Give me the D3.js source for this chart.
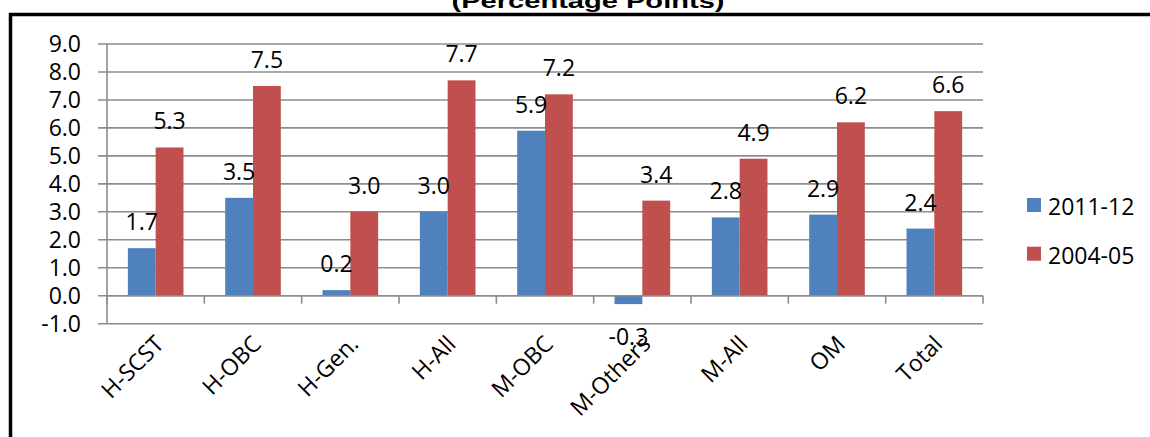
<!DOCTYPE html>
<html>
<head>
<meta charset="utf-8">
<script src="https://cdn.jsdelivr.net/npm/d3@7"></script>
<style>
  html, body { margin: 0; padding: 0; background: #fff; }
  svg { display: block; }
  text { font-family: "Open Sans", "Noto Sans", sans-serif; fill: #000; }
</style>
</head>
<body>
<svg id="chart" width="1150" height="437"></svg>
<script>
const categories = ["H-SCST", "H-OBC", "H-Gen.", "H-All", "M-OBC", "M-Others", "M-All", "OM", "Total"];
const seriesNames = ["2011-12", "2004-05"];
const values2011 = [1.7, 3.5, 0.2, 3.0, 5.9, -0.3, 2.8, 2.9, 2.4];
const values2004 = [5.3, 7.5, 3.0, 7.7, 7.2, 3.4, 4.9, 6.2, 6.6];
const yTicks = [-1, 0, 1, 2, 3, 4, 5, 6, 7, 8, 9];
const colors = ["#4F81BD", "#C0504D"];
const titleText = "(Percentage Points)";

const seriesValues = [values2011, values2004];
const svg = d3.select("#chart");
const fmt = d3.formatLocale({ decimal: ".", thousands: ",", grouping: [3], currency: ["", ""], minus: "-" }).format(".1f");

// outer frame
svg.append("rect")
  .attr("x", 10.5).attr("y", 14.5)
  .attr("width", 1300).attr("height", 600)
  .attr("fill", "none").attr("stroke", "#000").attr("stroke-width", 3.5);

// title (top clipped as in the original)
svg.append("text")
  .attr("x", 588).attr("y", 8)
  .attr("text-anchor", "middle")
  .style("font-family", "'Liberation Sans', Arial, sans-serif")
  .style("font-weight", "bold")
  .style("font-size", "20px")
  .attr("textLength", 273)
  .attr("lengthAdjust", "spacingAndGlyphs")
  .text(titleText);

const left = 107, right = 983;
const y = d3.scaleLinear().domain([-1, 9]).range([323.7, 44]);
const x = d3.scaleBand().domain(categories).range([left, right]).paddingInner(0).paddingOuter(0);
const xs = d3.scaleBand().domain(seriesNames).range([0, x.bandwidth()]).paddingInner(0).paddingOuter(0.75);

const gridColor = "#8c8c8c";
const fs = "23px";

// gridlines (extend left as tick marks)
svg.append("g").selectAll("line").data(yTicks).join("line")
  .attr("x1", left - 9).attr("x2", right)
  .attr("y1", d => y(d)).attr("y2", d => y(d))
  .attr("stroke", gridColor).attr("stroke-width", 1.6);

// y axis line
svg.append("line")
  .attr("x1", left).attr("x2", left)
  .attr("y1", y(9)).attr("y2", y(-1))
  .attr("stroke", gridColor).attr("stroke-width", 1.6);

// y tick labels
svg.append("g").selectAll("text").data(yTicks).join("text")
  .attr("x", 81).attr("y", d => y(d))
  .attr("dy", "0.36em")
  .attr("text-anchor", "end")
  .style("font-size", fs)
  .text(d => fmt(d));

// bars
const data = [];
categories.forEach((c, i) => {
  seriesNames.forEach((s, j) => data.push({ cat: c, ser: s, v: seriesValues[j][i], j }));
});

svg.append("g").selectAll("rect").data(data).join("rect")
  .attr("x", d => x(d.cat) + xs(d.ser))
  .attr("width", xs.bandwidth())
  .attr("y", d => Math.min(y(d.v), y(0)))
  .attr("height", d => Math.abs(y(d.v) - y(0)))
  .attr("fill", d => colors[d.j]);

// x axis line with ticks
const boundaries = categories.map(c => x(c)).concat([right]);
svg.append("line")
  .attr("x1", left).attr("x2", right)
  .attr("y1", y(0)).attr("y2", y(0))
  .attr("stroke", gridColor).attr("stroke-width", 1.6);
svg.append("g").selectAll("line").data(boundaries).join("line")
  .attr("x1", d => d).attr("x2", d => d)
  .attr("y1", y(0)).attr("y2", y(0) + 8)
  .attr("stroke", gridColor).attr("stroke-width", 1.6);

// category labels rotated
svg.append("g").selectAll("text").data(categories).join("text")
  .attr("transform", d => `translate(${x(d) + x.bandwidth() / 2 - 2},${334}) rotate(-45)`)
  .attr("dy", "0.71em")
  .attr("text-anchor", "end")
  .style("font-size", fs)
  .text(d => d);

// value labels
svg.append("g").selectAll("text").data(data).join("text")
  .attr("x", d => x(d.cat) + xs(d.ser) + xs.bandwidth() / 2)
  .attr("y", d => d.v >= 0 ? y(d.v) - 18 : y(d.v) + 41)
  .attr("text-anchor", "middle")
  .style("font-size", fs)
  .text(d => fmt(d.v));

// legend
const legend = svg.append("g").selectAll("g").data(seriesNames).join("g")
  .attr("transform", (d, i) => `translate(1027,${198 + i * 48.7})`);
legend.append("rect").attr("width", 14).attr("height", 14)
  .attr("fill", (d, i) => colors[i]);
legend.append("text").attr("x", 21).attr("y", 17)
  .style("font-size", fs)
  .text(d => d);
</script>
</body>
</html>
